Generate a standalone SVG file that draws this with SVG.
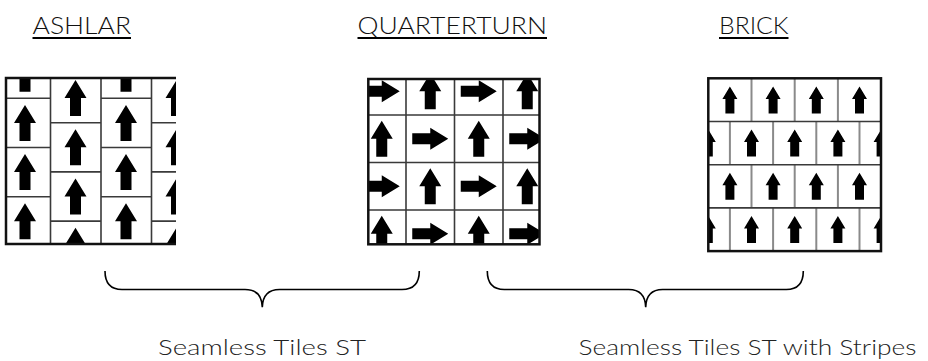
<svg xmlns="http://www.w3.org/2000/svg" xmlns:xlink="http://www.w3.org/1999/xlink" width="928" height="361" viewBox="0 0 928 361">
<style>
.title{font-family:Lato,"Liberation Sans",sans-serif;font-weight:300;font-size:24px;fill:#111}
.ul{stroke:#000;stroke-width:2}
.label{font-family:Lato,"Liberation Sans",sans-serif;font-weight:300;font-size:22px;fill:#222}
.grid{stroke:#3a3a3a;stroke-width:1.6;fill:none}
.gridv{stroke:#8a8a8a;stroke-width:2;fill:none}
.frame{stroke:#111;stroke-width:2.5;fill:none}
.brace{stroke:#000;stroke-width:1.6;fill:none}
.arr{fill:#000}
</style>
<defs>
<path id="aL" d="M0,-18 L11,0 L5.5,0 L5.5,18 L-5.5,18 L-5.5,0 L-11,0 Z"/>
<path id="aS" d="M0,-13.5 L7.5,-1 L4.5,-1 L4.5,13.5 L-4.5,13.5 L-4.5,-1 L-7.5,-1 Z"/>
<clipPath id="cA"><rect x="6" y="78" width="170" height="166"/></clipPath>
<clipPath id="cQ"><rect x="368.3" y="79" width="171.2" height="165.3"/></clipPath>
<clipPath id="cB"><rect x="708.3" y="78.3" width="172.7" height="172.8"/></clipPath>
</defs>
<rect width="928" height="361" fill="#fff"/>

<g id="title-ashlar">
<text class="title" x="32.5" y="34" textLength="98.5" lengthAdjust="spacingAndGlyphs">ASHLAR</text>
<line class="ul" x1="32.5" y1="38" x2="131" y2="38"/>
</g>
<g id="title-quarterturn">
<text class="title" x="357.5" y="34" textLength="189.5" lengthAdjust="spacingAndGlyphs">QUARTERTURN</text>
<line class="ul" x1="357.5" y1="38" x2="547" y2="38"/>
</g>
<g id="title-brick">
<text class="title" x="719" y="34" textLength="69.5" lengthAdjust="spacingAndGlyphs">BRICK</text>
<line class="ul" x1="719" y1="38" x2="788.5" y2="38"/>
</g>

<g id="tile-ashlar">
<rect x="6" y="78" width="170" height="166" fill="#fff"/>
<g clip-path="url(#cA)">
<g class="arr">
<use href="#aL" x="25" y="73.7"/><use href="#aL" x="25" y="122.9"/><use href="#aL" x="25" y="172.1"/><use href="#aL" x="25" y="221.3"/>
<use href="#aL" x="75.5" y="98.1"/><use href="#aL" x="75.5" y="147.3"/><use href="#aL" x="75.5" y="196.5"/><use href="#aL" x="75.5" y="245.7"/>
<use href="#aL" x="126" y="73.7"/><use href="#aL" x="126" y="122.9"/><use href="#aL" x="126" y="172.1"/><use href="#aL" x="126" y="221.3"/>
<use href="#aL" x="176.5" y="98.1"/><use href="#aL" x="176.5" y="147.3"/><use href="#aL" x="176.5" y="196.5"/><use href="#aL" x="176.5" y="245.7"/>
</g>
<path class="grid" d="M50.5,78V244M101,78V244M151.5,78V244
M6,98.3H50.5M6,147.5H50.5M6,196.7H50.5
M101,98.3H151.5M101,147.5H151.5M101,196.7H151.5
M50.5,122.7H101M50.5,171.9H101M50.5,221.1H101
M151.5,122.7H176M151.5,171.9H176M151.5,221.1H176"/>
</g>
<path class="frame" d="M176,78H6V244H176"/>
</g>

<g id="tile-quarterturn">
<rect x="368.3" y="79" width="171.2" height="165.3" fill="#fff"/>
<g clip-path="url(#cQ)">
<g class="arr">
<use href="#aL" transform="translate(381.75,91.25) rotate(90)"/>
<use href="#aL" transform="translate(430.25,91.25)"/>
<use href="#aL" transform="translate(478.75,91.25) rotate(90)"/>
<use href="#aL" transform="translate(527.25,91.25)"/>
<use href="#aL" transform="translate(381.75,138.75)"/>
<use href="#aL" transform="translate(430.25,138.75) rotate(90)"/>
<use href="#aL" transform="translate(478.75,138.75)"/>
<use href="#aL" transform="translate(527.25,138.75) rotate(90)"/>
<use href="#aL" transform="translate(381.75,186.25) rotate(90)"/>
<use href="#aL" transform="translate(430.25,186.25)"/>
<use href="#aL" transform="translate(478.75,186.25) rotate(90)"/>
<use href="#aL" transform="translate(527.25,186.25)"/>
<use href="#aL" transform="translate(381.75,233.75)"/>
<use href="#aL" transform="translate(430.25,233.75) rotate(90)"/>
<use href="#aL" transform="translate(478.75,233.75)"/>
<use href="#aL" transform="translate(527.25,233.75) rotate(90)"/>
</g>
<path class="grid" d="M406,79V244.3M454.5,79V244.3M503,79V244.3M368.3,115H539.5M368.3,162.5H539.5M368.3,210H539.5"/>
</g>
<rect class="frame" x="368.3" y="79" width="171.2" height="165.3"/>
</g>

<g id="tile-brick">
<rect x="708.3" y="78.3" width="172.7" height="172.8" fill="#fff"/>
<g clip-path="url(#cB)">
<g class="arr">
<use href="#aS" x="729.9" y="99.9"/><use href="#aS" x="773.1" y="99.9"/><use href="#aS" x="816.3" y="99.9"/><use href="#aS" x="859.5" y="99.9"/>
<use href="#aS" x="708.3" y="143.1"/><use href="#aS" x="751.5" y="143.1"/><use href="#aS" x="794.7" y="143.1"/><use href="#aS" x="837.9" y="143.1"/><use href="#aS" x="881.1" y="143.1"/>
<use href="#aS" x="729.9" y="186.3"/><use href="#aS" x="773.1" y="186.3"/><use href="#aS" x="816.3" y="186.3"/><use href="#aS" x="859.5" y="186.3"/>
<use href="#aS" x="708.3" y="229.5"/><use href="#aS" x="751.5" y="229.5"/><use href="#aS" x="794.7" y="229.5"/><use href="#aS" x="837.9" y="229.5"/><use href="#aS" x="881.1" y="229.5"/>
</g>
<path class="gridv" d="M751.5,78.3V121.5M794.7,78.3V121.5M837.9,78.3V121.5
M751.5,164.7V207.9M794.7,164.7V207.9M837.9,164.7V207.9
M729.9,121.5V164.7M773.1,121.5V164.7M816.3,121.5V164.7M859.5,121.5V164.7
M729.9,207.9V251.1M773.1,207.9V251.1M816.3,207.9V251.1M859.5,207.9V251.1"/>
<path class="grid" d="M708.3,121.5H881M708.3,164.7H881M708.3,207.9H881"/>
</g>
<rect class="frame" x="708.3" y="78.3" width="172.7" height="172.8"/>
</g>

<g id="connectors">
<path class="brace" d="M105,271 C105,282.5 110,289.5 122,289.5 L245,289.5 C256,289.5 262,296 262.3,307.3 C262.6,296 268.6,289.5 279.6,289.5 L402,289.5 C414,289.5 419.3,282.5 419.3,271"/>
<path class="brace" d="M487.3,271 C487.3,282.5 492.3,289.5 504.3,289.5 L628.7,289.5 C639.7,289.5 645.4,296 645.7,307.3 C646,296 651.7,289.5 662.7,289.5 L786.3,289.5 C798.3,289.5 803.3,282.5 803.3,271"/>
</g>

<g id="label-st">
<text class="label" x="158" y="355" textLength="208" lengthAdjust="spacingAndGlyphs">Seamless Tiles ST</text>
</g>
<g id="label-st-stripes">
<text class="label" x="578.5" y="355" textLength="338" lengthAdjust="spacingAndGlyphs">Seamless Tiles ST with Stripes</text>
</g>
</svg>
